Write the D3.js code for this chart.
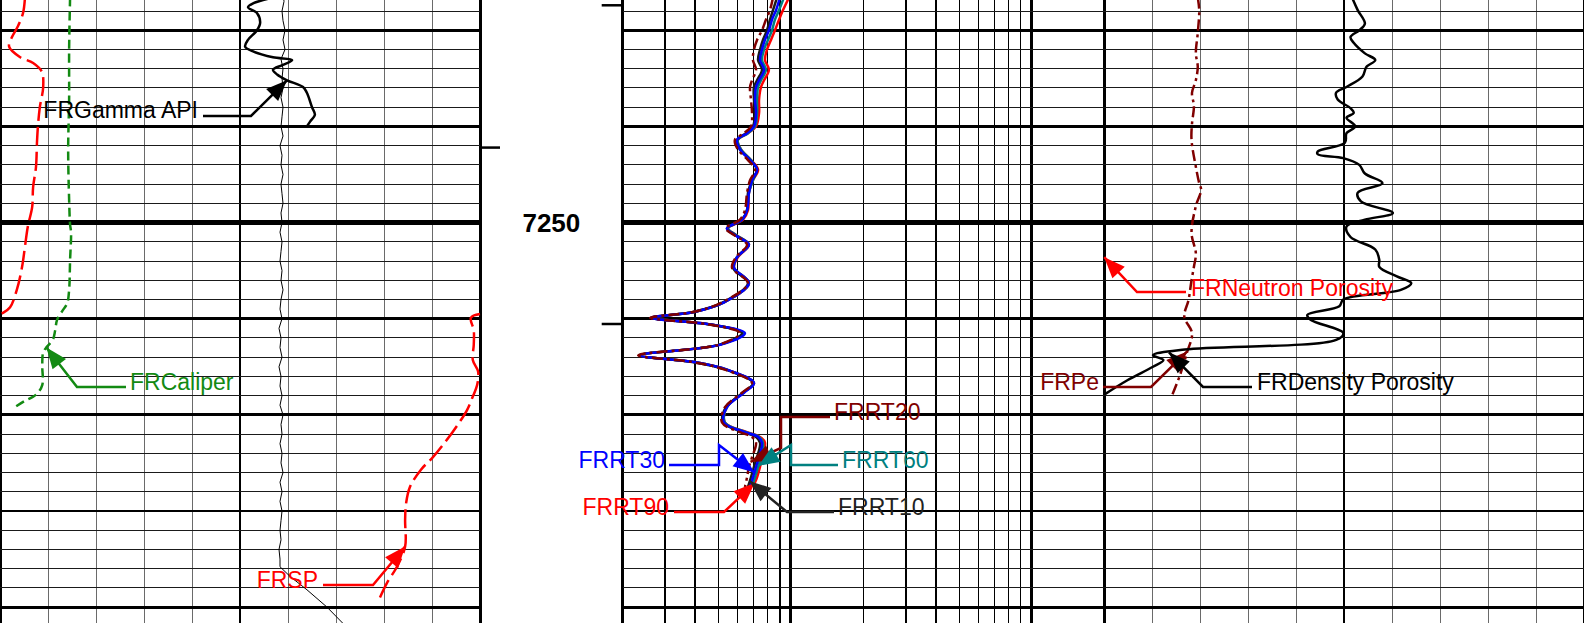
<!DOCTYPE html>
<html>
<head>
<meta charset="utf-8">
<script src="https://cdn.jsdelivr.net/npm/d3@7"></script>
<style>
  html, body { margin: 0; padding: 0; background: #fff; overflow: hidden; }
  svg { display: block; font-family: "Liberation Sans", Arial, sans-serif; }
</style>
</head>
<body>
<script>
// depth window (ft) and depth track marks
const DEPTH_TOP = 7226.85;
const DEPTH_BOTTOM = 7291.65;
const depthLabels = [7250];
const leftTickDepths = [7242.2];
const rightTickDepths = [7227.4, 7260.55];

// curve scales
const grScale = [0, 150];        // API
const calScale = [6, 16];        // in
const spScale = [-80, 20];       // mV (wraps)
const thinScale = [0, 120];
const rtScale = [2, 200];        // ohm.m, log
const denScale = [0.45, -0.15];  // v/v
const peScale = [0, 10];

// track 1
const grDepth = [7226.6, 7227.2, 7227.6, 7228.2, 7229.2, 7230.0, 7231.0, 7231.7, 7232.2, 7232.8, 7233.1, 7233.6, 7234.1, 7234.6, 7235.2, 7235.9, 7236.5, 7238.0, 7238.8, 7239.5, 7240.0];
const grApi = [85.3, 79.1, 77.5, 80.3, 81.3, 80.3, 77.5, 76.6, 79.1, 85.3, 91.3, 88.4, 85.3, 86.6, 89.7, 94.7, 95.9, 97.5, 98.4, 96.9, 95.9];

const calDepth = [7226.6, 7232.0, 7237.2, 7242.4, 7247.6, 7250.2, 7251.0, 7253.9, 7257.0, 7258.4, 7259.1, 7260.1, 7261.2, 7262.2, 7262.9, 7263.5, 7264.8, 7266.9, 7267.9, 7268.6, 7269.2];
const calIn = [7.46, 7.44, 7.44, 7.42, 7.44, 7.46, 7.48, 7.46, 7.44, 7.40, 7.31, 7.19, 7.15, 7.10, 6.98, 6.90, 6.88, 6.88, 6.75, 6.50, 6.31];

const spDepth = [7226.6, 7228.2, 7229.6, 7230.7, 7231.7, 7232.8, 7233.4, 7234.3, 7235.9, 7238.0, 7240.0, 7241.7, 7244.2, 7246.3, 7248.4, 7250.4, 7252.5, 7254.6, 7257.0, 7258.8, 7259.4, 7259.9, 7261.2, 7262.7, 7264.3, 7265.5, 7266.9, 7268.1, 7269.5, 7271.0, 7272.6, 7274.4, 7275.7, 7277.5, 7279.2, 7280.9, 7283.7, 7285.8, 7287.5, 7289.5];
const spMv = [-74.8, -75.2, -76.3, -77.5, -78.1, -75.8, -73.1, -71.3, -71.0, -71.7, -72.1, -72.3, -72.5, -73.1, -73.3, -74.2, -74.8, -75.4, -76.5, -77.9, -79.4, -81.9, -81.3, -81.3, -81.5, -80.4, -80.6, -81.5, -82.7, -84.6, -86.9, -89.8, -92.3, -94.6, -95.4, -95.6, -95.6, -97.3, -99.4, -101.3];

const thinDepth = [7226, 7227, 7228, 7229, 7230, 7231, 7232, 7233, 7234, 7235, 7236, 7237, 7238, 7239, 7240, 7241, 7242, 7243, 7244, 7245, 7246, 7247, 7248, 7249, 7250, 7251, 7252, 7253, 7254, 7255, 7256, 7257, 7258, 7259, 7260, 7261, 7262, 7263, 7264, 7265, 7266, 7267, 7268, 7269, 7270, 7271, 7272, 7273, 7274, 7275, 7276, 7277, 7278, 7279, 7280, 7281, 7282, 7283, 7284, 7285, 7285.8, 7286.8, 7288.2, 7290.0, 7291.8];
const thinVal = [70.75, 71, 70.5, 70.75, 71.25, 70.75, 71.25, 70.25, 70.75, 70.5, 70.75, 70.25, 70.75, 70.5, 70.25, 70.75, 70, 70.5, 70.25, 70.75, 70.25, 70.5, 70.75, 70.25, 70.5, 70, 70.5, 70.25, 70, 70.5, 70.25, 70.75, 70.25, 70, 70.5, 69.75, 70.25, 70, 70.5, 69.75, 70.25, 70, 70.5, 70, 70.75, 70.25, 70.5, 70, 70.5, 70.25, 70.75, 70, 70.5, 70, 70.5, 70.25, 70, 70.25, 69.75, 70, 70, 72.5, 76.75, 81.75, 86];

// track 2 (resistivity)
const rtDepth = [7226.6, 7227.9, 7228.9, 7230.0, 7231.0, 7232.0, 7233.1, 7234.1, 7235.2, 7235.9, 7237.2, 7238.6, 7240.0, 7240.7, 7241.4, 7242.4, 7243.5, 7244.5, 7245.6, 7246.9, 7248.7, 7249.7, 7250.6, 7251.3, 7252.3, 7253.6, 7254.7, 7256.3, 7258.3, 7259.3, 7259.9, 7260.6, 7261.5, 7262.7, 7263.8, 7264.5, 7265.3, 7266.7, 7267.7, 7269.2, 7270.8, 7271.8, 7272.3, 7272.9, 7274.4, 7275.4, 7276.5, 7277.5];
const rt20 = [8.42, 8.18, 7.87, 7.58, 7.23, 7.02, 6.95, 7.16, 6.89, 6.76, 6.82, 6.89, 6.82, 6.38, 5.85, 6.02, 6.63, 7.09, 6.76, 6.57, 6.44, 6.14, 5.37, 5.80, 6.57, 5.91, 5.69, 6.63, 5.17, 3.92, 2.60, 4.57, 6.14, 5.02, 2.32, 3.88, 5.32, 6.89, 6.26, 5.32, 5.17, 6.14, 6.89, 7.16, 6.89, 6.69, 6.57, 6.44];
const rt10 = [8.75, 8.42, 8.18, 7.95, 7.65, 7.44, 7.30, 7.58, 7.23, 7.02, 7.02, 7.09, 6.95, 6.50, 5.97, 6.14, 6.76, 7.23, 6.89, 6.63, 6.57, 6.26, 5.42, 5.85, 6.63, 5.97, 5.74, 6.63, 5.22, 3.92, 2.62, 4.61, 6.26, 5.07, 2.34, 3.92, 5.37, 6.95, 6.32, 5.37, 5.22, 6.32, 7.16, 7.44, 7.23, 7.02, 6.82, 6.63];
const rt30 = [9.00, 8.67, 8.34, 8.10, 7.80, 7.58, 7.44, 7.73, 7.37, 7.16, 7.09, 7.16, 7.02, 6.57, 5.97, 6.14, 6.76, 7.23, 6.89, 6.69, 6.57, 6.26, 5.42, 5.85, 6.69, 5.97, 5.80, 6.69, 5.27, 3.96, 2.62, 4.65, 6.44, 5.12, 2.36, 3.96, 5.42, 7.02, 6.38, 5.42, 5.27, 6.44, 7.30, 7.58, 7.37, 7.16, 6.95, 6.76];
const rt60 = [9.35, 8.92, 8.58, 8.34, 8.03, 7.73, 7.58, 7.87, 7.51, 7.30, 7.23, 7.23, 7.09, 6.63, 6.02, 6.20, 6.82, 7.23, 6.95, 6.69, 6.57, 6.26, 5.48, 5.91, 6.69, 5.97, 5.80, 6.69, 5.27, 3.96, 2.65, 4.65, 6.32, 5.07, 2.36, 3.96, 5.42, 7.02, 6.32, 5.42, 5.32, 6.50, 7.37, 7.65, 7.51, 7.30, 7.09, 6.89];
const rt90 = [9.81, 9.27, 8.92, 8.58, 8.26, 7.95, 7.80, 8.10, 7.73, 7.51, 7.37, 7.37, 7.16, 6.63, 6.02, 6.20, 6.82, 7.30, 6.95, 6.69, 6.63, 6.32, 5.48, 5.91, 6.69, 6.02, 5.80, 6.69, 5.27, 3.96, 2.65, 4.65, 6.32, 5.07, 2.36, 3.96, 5.42, 7.02, 6.32, 5.42, 5.32, 6.57, 7.44, 7.80, 7.58, 7.44, 7.23, 6.95];

// track 3
const denDepth = [7226.6, 7227.9, 7229.3, 7230.0, 7230.7, 7231.3, 7232.4, 7233.1, 7233.8, 7234.8, 7235.9, 7236.5, 7237.2, 7238.1, 7238.6, 7239.1, 7240.0, 7240.7, 7241.7, 7242.6, 7242.9, 7243.3, 7244.0, 7244.9, 7245.9, 7246.9, 7247.8, 7249.0, 7249.7, 7250.4, 7251.5, 7252.8, 7253.9, 7254.6, 7255.6, 7256.3, 7257.0, 7258.0, 7258.7, 7259.6, 7260.1, 7261.5, 7262.2, 7263.2, 7263.8, 7264.3, 7265.0, 7266.4, 7267.9];
const denPor = [0.140, 0.133, 0.124, 0.131, 0.142, 0.138, 0.124, 0.111, 0.122, 0.127, 0.147, 0.160, 0.158, 0.142, 0.138, 0.147, 0.136, 0.147, 0.149, 0.183, 0.183, 0.151, 0.131, 0.124, 0.102, 0.133, 0.129, 0.089, 0.124, 0.147, 0.142, 0.111, 0.106, 0.106, 0.084, 0.066, 0.079, 0.151, 0.156, 0.196, 0.192, 0.151, 0.160, 0.349, 0.389, 0.376, 0.389, 0.421, 0.450];

const peDepth = [7226.6, 7227.9, 7230.3, 7232.4, 7233.8, 7235.2, 7236.5, 7237.9, 7239.7, 7241.4, 7244.2, 7245.9, 7246.6, 7248.3, 7251.1, 7253.2, 7254.6, 7256.0, 7258.0, 7259.8, 7261.5, 7263.6, 7266.0, 7267.9];
const pe = [1.95, 1.98, 1.95, 1.91, 1.95, 1.91, 1.83, 1.87, 1.83, 1.82, 1.91, 1.98, 2.02, 1.91, 1.82, 1.91, 1.87, 1.82, 1.76, 1.67, 1.83, 1.72, 1.57, 1.42];

const W = 1584, H = 623;
const tracks = { left: [0, 480], depth: [480, 622.7], log: [622.7, 1104.2], right: [1104.2, 1584] };

const svg = d3.select("body").append("svg")
    .attr("width", W)
    .attr("height", H);

const y = d3.scaleLinear().domain([DEPTH_TOP, DEPTH_BOTTOM]).range([0, H]);
const xGr = d3.scaleLinear().domain(grScale).range(tracks.left);
const xCal = d3.scaleLinear().domain(calScale).range(tracks.left);
const xSp = d3.scaleLinear().domain(spScale).range(tracks.left);
const xThin = d3.scaleLinear().domain(thinScale).range(tracks.left);
const xRt = d3.scaleLog().domain(rtScale).range(tracks.log);
const xDen = d3.scaleLinear().domain(denScale).range(tracks.right);
const xPe = d3.scaleLinear().domain(peScale).range(tracks.right);

// ---- grid ----
const grid = svg.append("g").attr("shape-rendering", "crispEdges");

// vertical lines, linear tracks (10 divisions)
[tracks.left, tracks.right].forEach(function (t) {
    const lin = d3.scaleLinear().domain([0, 10]).range(t);
    d3.range(0, 11).forEach(function (i) {
        const edge = (i == 0 || i == 10);
        grid.append("line")
            .attr("x1", lin(i)).attr("x2", lin(i))
            .attr("y1", 0).attr("y2", H)
            .attr("stroke", (edge || i == 5) ? "#000" : "#6a6a6a")
            .attr("stroke-width", edge ? 3 : (i == 5 ? 2.5 : 1));
    });
});

// vertical lines, log track
const logLines = [3, 4, 5, 6, 7, 8, 9, 10, 20, 30, 40, 50, 60, 70, 80, 90, 100];
logLines.forEach(function (v) {
    const decade = (v == 10 || v == 100);
    grid.append("line")
        .attr("x1", xRt(v)).attr("x2", xRt(v))
        .attr("y1", 0).attr("y2", H)
        .attr("stroke", "#000")
        .attr("stroke-width", decade ? 3 : 1.5);
});
rtScale.forEach(function (v) {
    grid.append("line")
        .attr("x1", xRt(v)).attr("x2", xRt(v))
        .attr("y1", 0).attr("y2", H)
        .attr("stroke", "#000").attr("stroke-width", 3);
});

// horizontal lines every 2 ft, heavier every 10 and 50
const hDepths = d3.range(Math.ceil(DEPTH_TOP / 2) * 2, DEPTH_BOTTOM, 2);
[tracks.left, tracks.log, tracks.right].forEach(function (t) {
    hDepths.forEach(function (d) {
        const w = d % 50 == 0 ? 4.5 : (d % 10 == 0 ? 2.8 : 1);
        grid.append("line")
            .attr("x1", t[0]).attr("x2", t[1])
            .attr("y1", y(d)).attr("y2", y(d))
            .attr("stroke", d % 10 == 0 ? "#000" : "#1a1a1a")
            .attr("stroke-width", w);
    });
});

// depth track
leftTickDepths.forEach(function (d) {
    svg.append("line")
        .attr("x1", tracks.depth[0]).attr("x2", tracks.depth[0] + 20)
        .attr("y1", y(d)).attr("y2", y(d))
        .attr("stroke", "#000").attr("stroke-width", 2.5);
});
rightTickDepths.forEach(function (d) {
    svg.append("line")
        .attr("x1", tracks.depth[1] - 21).attr("x2", tracks.depth[1])
        .attr("y1", y(d)).attr("y2", y(d))
        .attr("stroke", "#000").attr("stroke-width", 2.5);
});
depthLabels.forEach(function (d) {
    svg.append("text")
        .attr("x", (tracks.depth[0] + tracks.depth[1]) / 2)
        .attr("y", y(d))
        .attr("dy", "0.36em")
        .attr("text-anchor", "middle")
        .attr("font-size", 26)
        .attr("font-weight", "bold")
        .attr("fill", "#000")
        .text(d);
});

// ---- curves ----
const defs = svg.append("defs");
Object.entries(tracks).forEach(function ([k, t]) {
    defs.append("clipPath").attr("id", "clip-" + k)
        .append("rect")
        .attr("x", t[0] - 2).attr("y", -5)
        .attr("width", t[1] - t[0] + 4).attr("height", H + 10);
});

function toPoints(depths, vals) {
    return depths.map(function (d, i) { return { d: d, v: vals[i] }; });
}

function drawCurve(track, pts, xs, style, curveType) {
    const line = d3.line()
        .x(function (p) { return xs(p.v); })
        .y(function (p) { return y(p.d); })
        .curve(curveType || d3.curveCatmullRom.alpha(0.5));
    svg.append("path")
        .attr("clip-path", "url(#clip-" + track + ")")
        .attr("d", line(pts))
        .attr("fill", "none")
        .attr("stroke", style.color)
        .attr("stroke-width", style.width)
        .attr("stroke-dasharray", style.dash || null)
        .attr("stroke-linejoin", "round")
        .attr("stroke-linecap", "butt");
}

// split a wrapping curve into in-scale pieces
function wrapSegments(depths, vals, lo, span) {
    const segs = [];
    let cur = [];
    let prevW = null;
    depths.forEach(function (d, i) {
        const v = vals[i];
        const w = Math.floor((v - lo) / span);
        if (prevW !== null && w !== prevW) {
            const pd = depths[i - 1], pv = vals[i - 1];
            const edge = lo + Math.max(w, prevW) * span;
            const t = (edge - pv) / (v - pv);
            const cd = pd + t * (d - pd);
            cur.push({ d: cd, v: edge - prevW * span });
            segs.push(cur);
            cur = [{ d: cd, v: edge - w * span }];
        }
        cur.push({ d: d, v: v - w * span });
        prevW = w;
    });
    segs.push(cur);
    return segs;
}

const spanSp = spScale[1] - spScale[0];
function wrapSp(v) { return v - Math.floor((v - spScale[0]) / spanSp) * spanSp; }

const dashDot = "11,4,3,4";
const styles = {
    gr:   { color: "#000", width: 2.5 },
    cal:  { color: "#138a13", width: 2.5, dash: "9,5" },
    sp:   { color: "#ff0000", width: 2.5, dash: "19,6" },
    thin: { color: "#000", width: 1 },
    rt90: { color: "#ff0000", width: 2.5 },
    rt60: { color: "#008080", width: 2.5 },
    rt10: { color: "#1a1a1a", width: 2.5 },
    rt30: { color: "#0000ff", width: 2.5 },
    rt20: { color: "#800000", width: 2.5, dash: dashDot },
    pe:   { color: "#800000", width: 2.5, dash: dashDot },
    den:  { color: "#000", width: 2.5 }
};

drawCurve("left", toPoints(thinDepth, thinVal), xThin, styles.thin, d3.curveLinear);
wrapSegments(spDepth, spMv, spScale[0], spanSp).forEach(function (seg) {
    drawCurve("left", seg, xSp, styles.sp);
});
drawCurve("left", toPoints(calDepth, calIn), xCal, styles.cal);
drawCurve("left", toPoints(grDepth, grApi), xGr, styles.gr);

drawCurve("log", toPoints(rtDepth, rt90), xRt, styles.rt90);
drawCurve("log", toPoints(rtDepth, rt60), xRt, styles.rt60);
drawCurve("log", toPoints(rtDepth, rt10), xRt, styles.rt10);
drawCurve("log", toPoints(rtDepth, rt30), xRt, styles.rt30);
drawCurve("log", toPoints(rtDepth, rt20), xRt, styles.rt20);

drawCurve("right", toPoints(peDepth, pe), xPe, styles.pe);
drawCurve("right", toPoints(denDepth, denPor), xDen, styles.den);

// ---- curve labels with leaders ----
function valueAt(depths, vals, d) {
    const i = d3.bisectLeft(depths, d);
    if (i <= 0) return vals[0];
    if (i >= depths.length) return vals[vals.length - 1];
    const t = (d - depths[i - 1]) / (depths[i] - depths[i - 1]);
    return vals[i - 1] + t * (vals[i] - vals[i - 1]);
}

const curveRefs = {
    gr:  { depth: grDepth, vals: grApi, x: xGr },
    cal: { depth: calDepth, vals: calIn, x: xCal },
    sp:  { depth: spDepth, vals: spMv, x: function (v) { return xSp(wrapSp(v)); } },
    rt10: { depth: rtDepth, vals: rt10, x: xRt },
    rt20: { depth: rtDepth, vals: rt20, x: xRt },
    rt30: { depth: rtDepth, vals: rt30, x: xRt },
    rt60: { depth: rtDepth, vals: rt60, x: xRt },
    rt90: { depth: rtDepth, vals: rt90, x: xRt },
    pe:  { depth: peDepth, vals: pe, x: xPe },
    den: { depth: denDepth, vals: denPor, x: xDen }
};

const labels = [
    { text: "FRGamma API", color: "#000", curve: "gr", depth: 7235.2, lx: 198, ly: 110, anchor: "end", leader: [[203, 116], [251, 116]] },
    { text: "FRCaliper", color: "#138a13", curve: "cal", depth: 7263.0, lx: 130, ly: 382, anchor: "start", leader: [[126, 387], [77, 387]] },
    { text: "FRSP", color: "#ff0000", curve: "sp", depth: 7283.7, lx: 318, ly: 580, anchor: "end", leader: [[323, 585], [373, 585]] },
    { text: "FRRT20", color: "#800000", curve: "rt20", depth: 7274.9, lx: 834, ly: 412, anchor: "start", leader: [[830, 417], [781, 417], [781, 448]] },
    { text: "FRRT30", color: "#0000ff", curve: "rt30", depth: 7276.0, lx: 665, ly: 460, anchor: "end", leader: [[669, 465], [719, 465], [719, 445]] },
    { text: "FRRT60", color: "#008080", curve: "rt60", depth: 7275.3, lx: 842, ly: 460, anchor: "start", leader: [[838, 465], [791, 465], [791, 445]] },
    { text: "FRRT90", color: "#ff0000", curve: "rt90", depth: 7277.1, lx: 669, ly: 507, anchor: "end", leader: [[674, 512], [724, 512]] },
    { text: "FRRT10", color: "#222", curve: "rt10", depth: 7276.9, lx: 838, ly: 507, anchor: "start", leader: [[834, 512], [787, 512]] },
    { text: "FRNeutron Porosity", color: "#ff0000", curve: null, edge: xDen(denScale[0]), depth: 7253.6, lx: 1191, ly: 288, anchor: "start", leader: [[1186, 292], [1137, 292]] },
    { text: "FRPe", color: "#800000", curve: "pe", depth: 7263.4, lx: 1099, ly: 382, anchor: "end", leader: [[1103, 387], [1151, 387]] },
    { text: "FRDensity Porosity", color: "#000", curve: "den", depth: 7263.5, lx: 1257, ly: 382, anchor: "start", leader: [[1252, 387], [1203, 387]] }
];

function arrowHead(from, tip, len, half) {
    const a = Math.atan2(tip[1] - from[1], tip[0] - from[0]);
    const bx = tip[0] - len * Math.cos(a), by = tip[1] - len * Math.sin(a);
    const px = -Math.sin(a) * half, py = Math.cos(a) * half;
    return "M" + tip[0] + "," + tip[1] +
        "L" + (bx + px) + "," + (by + py) +
        "L" + (bx - px) + "," + (by - py) + "Z";
}

const ann = svg.append("g");
labels.forEach(function (l) {
    let tip;
    if (l.curve) {
        const c = curveRefs[l.curve];
        tip = [c.x(valueAt(c.depth, c.vals, l.depth)), y(l.depth)];
    } else {
        tip = [l.edge, y(l.depth)];
    }
    const pts = l.leader.concat([tip]);
    const last = pts[pts.length - 2];
    ann.append("path")
        .attr("d", d3.line()(pts))
        .attr("fill", "none")
        .attr("stroke", l.color)
        .attr("stroke-width", 2.5)
        .attr("stroke-linejoin", "miter");
    ann.append("path")
        .attr("d", arrowHead(last, tip, 21, 8.5))
        .attr("fill", l.color);
    ann.append("text")
        .attr("x", l.lx)
        .attr("y", l.ly)
        .attr("dy", "0.36em")
        .attr("text-anchor", l.anchor)
        .attr("font-size", 23)
        .attr("fill", l.color)
        .text(l.text);
});
</script>
</body>
</html>
